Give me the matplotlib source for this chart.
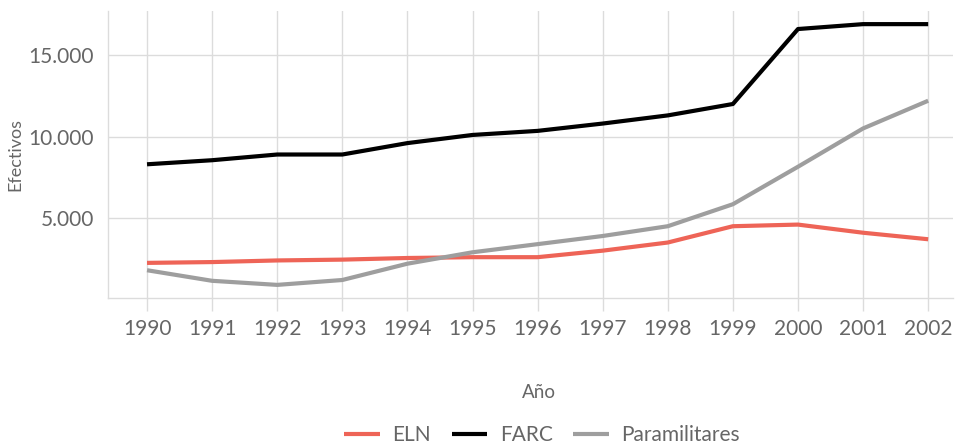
import matplotlib

matplotlib.use("Agg")
import matplotlib.pyplot as plt
from matplotlib.ticker import FuncFormatter

# Armed group strength in Colombia
years = list(range(1990, 2003))
eln = [2250, 2300, 2400, 2450, 2550, 2600, 2600, 3000, 3500, 4500, 4600, 4100, 3700]
farc = [8300, 8550, 8900, 8900, 9600, 10100, 10350, 10800, 11300, 12000, 16600, 16900, 16900]
paramilitares = [1800, 1150, 900, 1200, 2200, 2900, 3400, 3900, 4500, 5850, 8150, 10500, 12200]

series = [("ELN", eln, "#EE6457"), ("FARC", farc, "#000000"),
          ("Paramilitares", paramilitares, "#9E9E9E")]

ink = "#666666"
grid_c = "#DCDCDC"
plt.rcParams["font.family"] = ["Lato", "DejaVu Sans"]

fig = plt.figure(figsize=(9.58, 4.44), dpi=100)
ax = fig.add_axes([0.1127, 0.329, 0.8820, 0.646])

for name, vals, color in series:
    ax.plot(years, vals, color=color, linewidth=3.0, label=name,
            solid_capstyle="butt", zorder=3)

ax.set_xticks(years)
ax.set_yticks([5000, 10000, 15000])
ax.yaxis.set_major_formatter(FuncFormatter(lambda v, _p: f"{int(v):,}".replace(",", ".")))
ax.set_xlim(years[0] - 0.60, years[-1] + 0.38)
ax.margins(y=0.05)

ax.grid(True, color=grid_c, linewidth=1.0, zorder=0)
for s in ("top", "right"):
    ax.spines[s].set_visible(False)
for s in ("left", "bottom"):
    ax.spines[s].set_color(grid_c)
    ax.spines[s].set_linewidth(1.0)
ax.tick_params(axis="x", length=9, width=1.0, color=grid_c, labelcolor=ink,
               labelsize=15, pad=6)
ax.tick_params(axis="y", length=0, labelcolor=ink, labelsize=15, pad=10)

ax.set_ylabel("Efectivos", color=ink, fontsize=13, labelpad=4)
ax.set_xlabel("Año", color=ink, fontsize=13.5)
ax.xaxis.set_label_coords(0.51, -0.30)

fig.legend(loc="lower center", bbox_to_anchor=(0.566, -0.045), ncol=3, frameon=False,
           fontsize=15, labelcolor=ink, handlelength=1.7, columnspacing=1.0,
           handletextpad=0.6)

fig.savefig("out.png", dpi=100)
